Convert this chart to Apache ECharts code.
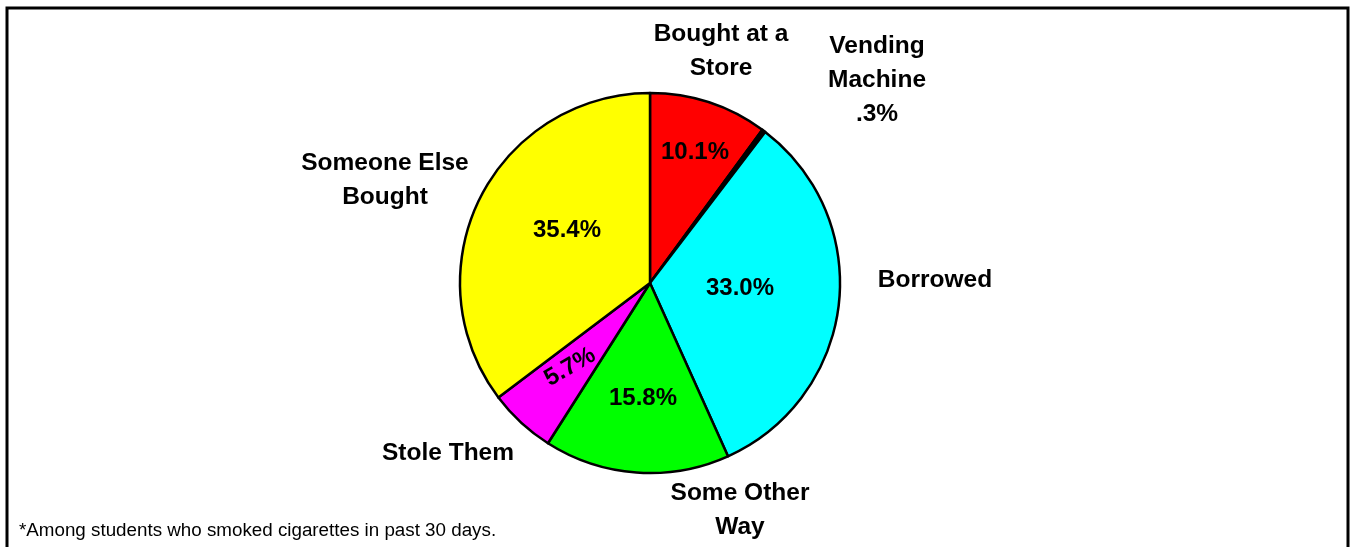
<!DOCTYPE html>
<html>
<head>
<meta charset="utf-8">
<script src="https://cdn.jsdelivr.net/npm/echarts@6/dist/echarts.min.js"></script>
<style>
html,body{margin:0;padding:0;background:#fff;}
#chart{width:1350px;height:547px;}
</style>
</head>
<body>
<div id="chart"></div>
<script>
// ---- data ----
var categories = ['Bought at a Store', 'Vending Machine', 'Borrowed', 'Some Other Way', 'Stole Them', 'Someone Else Bought'];
var nameLabels = ['Bought at a\nStore', 'Vending\nMachine\n.3%', 'Borrowed', 'Some Other\nWay', 'Stole Them', 'Someone Else\nBought'];
var percentValues = [10.1, 0.3, 33.0, 15.8, 5.7, 35.4];
var footnote = '*Among students who smoked cigarettes in past 30 days.';

// ---- style / layout ----
var sliceColors = ['#FF0000', '#000000', '#00FFFF', '#00FF00', '#FF00FF', '#FFFF00'];
var CX = 650, CY = 283, R = 190;
// label offsets from pie centre (layout only)
var innerOffsets = [[45, -131], [0, 0], [90, 5], [-7, 115], [-80, 84], [-83, -53]];
var innerRotate = [0, 0, 0, 0, 30, 0];
var outerOffsets = [[71, -232], [227, -203], [285, -3], [90, 227], [-202, 170], [-265, -103]];

var fontFam = '"Liberation Sans", Arial, sans-serif';

var data = categories.map(function (c, i) {
  return { name: c, value: percentValues[i], itemStyle: { color: sliceColors[i] } };
});

var chart = echarts.init(document.getElementById('chart'), null, { renderer: 'canvas' });
chart.setOption({
  animation: false,
  backgroundColor: '#fff',
  graphic: [{
    type: 'rect',
    shape: { x: 7, y: 8, width: 1341, height: 570 },
    style: { fill: 'none', stroke: '#000', lineWidth: 3 },
    z: 100
  }, {
    type: 'text',
    left: 19,
    top: 521,
    style: { text: footnote, font: '18.8px ' + fontFam, fill: '#000' }
  }],
  series: [{
    type: 'pie',
    center: [CX, CY],
    radius: R,
    startAngle: 90,
    clockwise: true,
    data: data,
    itemStyle: { borderColor: '#000', borderWidth: 2.5 },
    label: {
      show: true,
      position: 'inside',
      fontFamily: fontFam,
      fontWeight: 'bold',
      fontSize: 24,
      color: '#000',
      formatter: function (p) {
        return p.dataIndex === 1 ? '' : p.value.toFixed(1) + '%';
      }
    },
    labelLine: { show: false },
    labelLayout: function (p) {
      var o = innerOffsets[p.dataIndex];
      return { x: CX + o[0], y: CY + o[1], align: 'center', verticalAlign: 'middle', rotate: innerRotate[p.dataIndex] };
    },
    emphasis: { disabled: true }
  }, {
    type: 'pie',
    center: [CX, CY],
    radius: R,
    startAngle: 90,
    clockwise: true,
    silent: true,
    z: 1,
    data: data.map(function (d) { return { name: d.name, value: d.value, itemStyle: { color: 'rgba(0,0,0,0)', borderWidth: 0 } }; }),
    label: {
      show: true,
      position: 'outside',
      fontFamily: fontFam,
      fontWeight: 'bold',
      fontSize: 24.5,
      lineHeight: 34,
      align: 'center',
      color: '#000',
      formatter: function (p) { return nameLabels[p.dataIndex]; }
    },
    labelLine: { show: false },
    labelLayout: function (p) {
      var o = outerOffsets[p.dataIndex];
      return { x: CX + o[0], y: CY + o[1], align: 'center', verticalAlign: 'middle', hideOverlap: false };
    },
    emphasis: { disabled: true }
  }]
});
</script>
</body>
</html>
